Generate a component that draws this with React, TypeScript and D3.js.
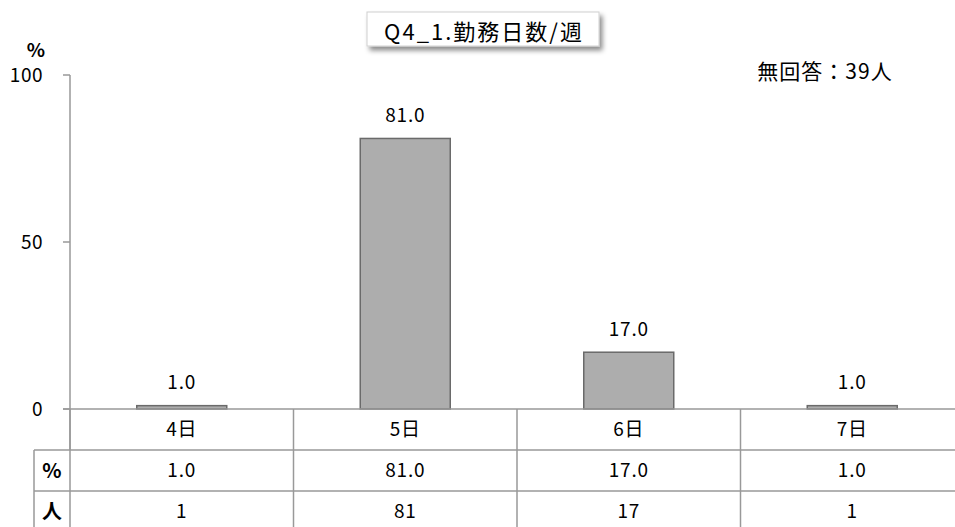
import React, { useEffect, useRef } from 'react';
import * as d3 from 'd3';

const categories = ['4日', '5日', '6日', '7日'];
const percents = [1.0, 81.0, 17.0, 1.0];
const counts = [1, 81, 17, 1];
const yTicks = [0, 50, 100];
const title = 'Q4_1.勤務日数/週';
const noAnswer = '無回答：39人';

const FONT = '"Noto Sans CJK JP", "Noto Sans", sans-serif';

const App: React.FC = () => {
  const ref = useRef<SVGSVGElement>(null);

  useEffect(() => {
    if (!ref.current) return;
    const svg = d3.select(ref.current);
    svg.selectAll('*').remove();

    const left = 70;
    const bandW = 223.5;
    const top = 75;
    const bottom = 409;
    const rowH = 41;
    const gridColor = '#999';
    const fs = '19px';

    const x = d3.scaleBand<string>()
      .domain(categories)
      .range([left, left + bandW * categories.length])
      .paddingInner(0)
      .paddingOuter(0);

    const y = d3.scaleLinear().domain([0, 100]).range([bottom, top]);

    // shadow filter for title box
    const defs = svg.append('defs');
    const f = defs.append('filter').attr('id', 'shadow').attr('x', '-10%').attr('y', '-20%').attr('width', '130%').attr('height', '160%');
    f.append('feDropShadow').attr('dx', 3).attr('dy', 4).attr('stdDeviation', 2.5).attr('flood-color', '#000').attr('flood-opacity', 0.45);

    // y axis
    svg.append('line')
      .attr('x1', left).attr('x2', left)
      .attr('y1', y(100)).attr('y2', y(0) + rowH)
      .attr('stroke', gridColor).attr('stroke-width', 1.5);

    const tickG = svg.append('g');
    tickG.selectAll('line')
      .data(yTicks)
      .enter()
      .append('line')
      .attr('x1', left - 7).attr('x2', left)
      .attr('y1', d => y(d)).attr('y2', d => y(d))
      .attr('stroke', gridColor).attr('stroke-width', 1.5);
    tickG.selectAll('text')
      .data(yTicks)
      .enter()
      .append('text')
      .attr('x', 43)
      .attr('y', d => y(d))
      .attr('dy', '0.35em')
      .attr('text-anchor', 'end')
      .style('font-family', FONT)
      .style('font-size', fs)
      .style('letter-spacing', '0.5px')
      .text(d => d);

    svg.append('text')
      .attr('x', 36).attr('y', 57)
      .attr('text-anchor', 'middle')
      .style('font-family', FONT)
      .style('font-size', '19px')
      .style('font-weight', 'bold')
      .text('%');

    // bars
    const barW = 90;
    svg.selectAll('.bar')
      .data(percents)
      .enter()
      .append('rect')
      .attr('class', 'bar')
      .attr('x', (d, i) => (x(categories[i]) as number) + (x.bandwidth() - barW) / 2)
      .attr('y', d => y(d))
      .attr('width', barW)
      .attr('height', d => y(0) - y(d))
      .attr('fill', '#adadad')
      .attr('stroke', '#6a6a6a')
      .attr('stroke-width', 1.5);

    svg.selectAll('.val')
      .data(percents)
      .enter()
      .append('text')
      .attr('class', 'val')
      .attr('x', (d, i) => (x(categories[i]) as number) + x.bandwidth() / 2)
      .attr('y', d => y(d) - 23)
      .attr('dy', '0.35em')
      .attr('text-anchor', 'middle')
      .style('font-family', FONT)
      .style('font-size', fs)
      .style('letter-spacing', '0.8px')
      .text(d => d.toFixed(1));

    // data table
    const right = 955;
    const t = svg.append('g').attr('stroke', gridColor).attr('stroke-width', 1.5);
    [bottom, bottom + rowH, bottom + rowH * 2].forEach((yy, i) => {
      t.append('line')
        .attr('x1', i === 0 ? left - 7 : 34).attr('x2', right)
        .attr('y1', yy).attr('y2', yy);
    });
    t.append('line').attr('x1', 34).attr('x2', 34).attr('y1', bottom + rowH).attr('y2', 527);
    t.append('line').attr('x1', left).attr('x2', left).attr('y1', bottom).attr('y2', 527);
    categories.slice(1).forEach(c => {
      const xx = x(c) as number;
      t.append('line').attr('x1', xx).attr('x2', xx).attr('y1', bottom).attr('y2', 527);
    });

    const rows: string[][] = [
      categories,
      percents.map(d => d.toFixed(1)),
      counts.map(d => String(d)),
    ];
    rows.forEach((row, ri) => {
      svg.selectAll(`.row${ri}`)
        .data(row)
        .enter()
        .append('text')
        .attr('x', (d, i) => (x(categories[i]) as number) + x.bandwidth() / 2)
        .attr('y', bottom + rowH * ri + rowH / 2)
        .attr('dy', '0.35em')
        .attr('text-anchor', 'middle')
        .style('font-family', FONT)
        .style('font-size', fs)
        .style('letter-spacing', '0.8px')
        .text(d => d);
    });
    ['%', '人'].forEach((h, i) => {
      svg.append('text')
        .attr('x', 52)
        .attr('y', bottom + rowH * (i + 1) + rowH / 2)
        .attr('dy', '0.35em')
        .attr('text-anchor', 'middle')
        .style('font-family', FONT)
        .style('font-size', '20px')
        .style('font-weight', 'bold')
        .text(h);
    });

    // title
    svg.append('rect')
      .attr('x', 367).attr('y', 12)
      .attr('width', 232).attr('height', 34)
      .attr('fill', '#fff')
      .attr('stroke', '#d0d0d0')
      .attr('stroke-width', 1)
      .attr('filter', 'url(#shadow)');
    svg.append('text')
      .attr('x', 484).attr('y', 32)
      .attr('dy', '0.35em')
      .attr('text-anchor', 'middle')
      .style('font-family', FONT)
      .style('font-size', '22px')
      .style('letter-spacing', '2px')
      .text(title);

    svg.append('text')
      .attr('x', 825).attr('y', 72)
      .attr('dy', '0.35em')
      .attr('text-anchor', 'middle')
      .style('font-family', FONT)
      .style('font-size', '21px')
      .style('letter-spacing', '1px')
      .text(noAnswer);
  }, []);

  return (
    <svg
      ref={ref}
      width={955}
      height={527}
      style={{ position: 'absolute', left: 0, top: 0, background: '#fff' }}
    />
  );
};

export default App;
